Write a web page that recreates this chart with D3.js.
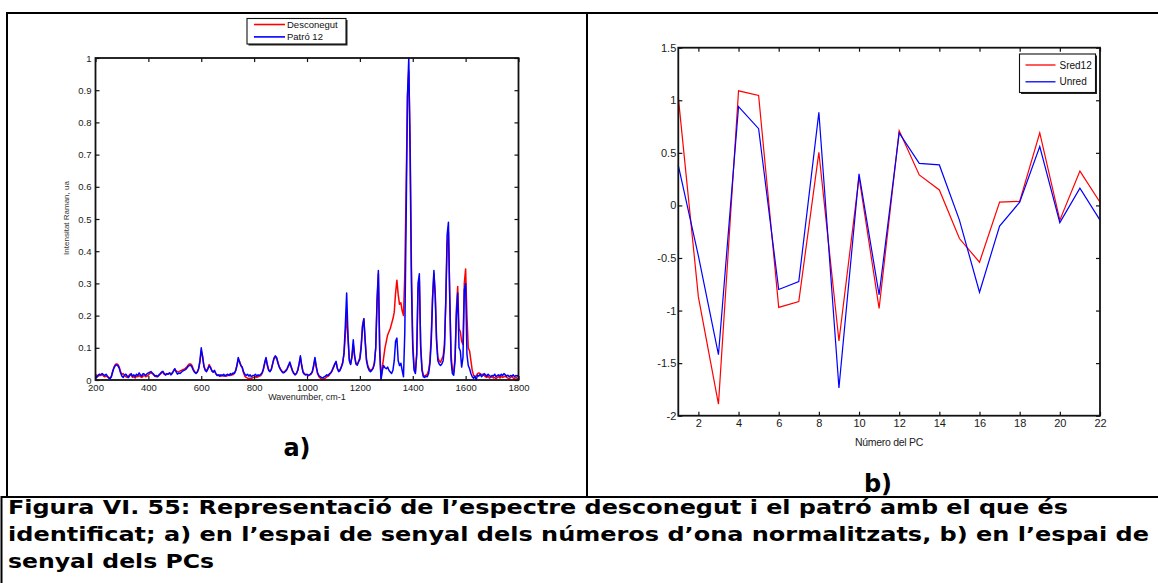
<!DOCTYPE html>
<html>
<head>
<meta charset="utf-8">
<script src="https://cdn.jsdelivr.net/npm/d3@7"></script>
<style>
  body { margin: 0; background: #fff; }
  svg { display: block; }
  .tick text { fill: #1a1a1a; }
</style>
</head>
<body>
<svg id="fig" width="1158" height="583"></svg>
<script>
// ---------- a) Raman spectra, 200–1800 cm-1 sampled every 5 cm-1 ----------
const wavenumbers = d3.range(200, 1801, 5);

const desconegut = [
  // 200–295
  0.018,0.014,0.012,0.015,0.014,0.018,0.012,0.010,0.012,0.010,0.008,0.006,0.012,0.028,0.040,0.048,0.050,0.048,0.040,0.025,
  // 300–395
  0.018,0.020,0.014,0.010,0.008,0.012,0.018,0.015,0.008,0.010,0.006,0.012,0.010,0.014,0.010,0.008,0.012,0.014,0.010,0.012,
  // 400–495
  0.016,0.020,0.022,0.020,0.016,0.012,0.010,0.012,0.014,0.018,0.022,0.024,0.018,0.016,0.018,0.020,0.022,0.020,0.022,0.028,
  // 500–595
  0.034,0.028,0.026,0.025,0.028,0.030,0.032,0.034,0.036,0.040,0.046,0.050,0.050,0.045,0.034,0.026,0.022,0.025,0.035,0.055,
  // 600–695
  0.090,0.075,0.045,0.032,0.030,0.036,0.048,0.040,0.030,0.026,0.028,0.020,0.016,0.014,0.016,0.012,0.014,0.012,0.014,0.012,
  // 700–795
  0.014,0.016,0.014,0.018,0.016,0.022,0.030,0.045,0.065,0.058,0.046,0.038,0.022,0.012,0.008,0.006,0.004,0.006,0.004,0.008,
  // 800–895
  0.008,0.010,0.008,0.010,0.012,0.014,0.020,0.032,0.050,0.066,0.048,0.032,0.028,0.034,0.050,0.065,0.070,0.068,0.056,0.042,
  // 900–995
  0.034,0.028,0.024,0.026,0.030,0.036,0.044,0.050,0.040,0.030,0.022,0.018,0.020,0.030,0.048,0.070,0.045,0.026,0.020,0.016,
  // 1000–1095
  0.016,0.014,0.016,0.018,0.024,0.042,0.065,0.040,0.020,0.010,0.006,0.003,0.002,0.004,0.006,0.010,0.012,0.016,0.022,0.028,
  // 1100–1195
  0.038,0.048,0.055,0.036,0.028,0.032,0.042,0.055,0.080,0.140,0.200,0.130,0.065,0.050,0.070,0.110,0.075,0.052,0.048,0.058,
  // 1200–1295
  0.070,0.110,0.170,0.190,0.125,0.065,0.045,0.035,0.030,0.032,0.038,0.055,0.100,0.240,0.330,0.100,0.005,0.040,0.070,0.100,
  // 1300–1395
  0.120,0.140,0.150,0.160,0.175,0.190,0.210,0.270,0.310,0.265,0.235,0.240,0.215,0.200,0.330,0.600,0.880,0.960,0.750,0.350,
  // 1400–1495
  0.120,0.040,0.025,0.080,0.280,0.310,0.110,0.035,0.015,0.012,0.015,0.018,0.030,0.060,0.140,0.260,0.330,0.270,0.130,0.070,
  // 1500–1595
  0.060,0.055,0.065,0.075,0.110,0.240,0.420,0.460,0.260,0.080,0.030,0.025,0.070,0.220,0.290,0.160,0.150,0.120,0.110,0.300,
  // 1600–1695
  0.345,0.200,0.100,0.090,0.060,0.030,0.015,0.010,0.012,0.020,0.022,0.020,0.016,0.018,0.014,0.010,0.008,0.012,0.006,0.008,
  // 1700–1800
  0.010,0.006,0.008,0.004,0.008,0.010,0.006,0.012,0.008,0.010,0.012,0.008,0.006,0.004,0.008,0.010,0.006,0.004,0.008,0.005,0.003
];

const patro12 = [
  // 200–295
  0.012,0.008,0.015,0.018,0.016,0.020,0.017,0.014,0.018,0.012,0.006,0.004,0.010,0.025,0.038,0.045,0.047,0.044,0.036,0.022,
  // 300–395
  0.012,0.008,0.015,0.018,0.012,0.008,0.014,0.020,0.012,0.016,0.010,0.018,0.014,0.022,0.016,0.012,0.020,0.018,0.014,0.020,
  // 400–495
  0.022,0.024,0.026,0.022,0.018,0.012,0.014,0.010,0.016,0.020,0.025,0.027,0.020,0.016,0.020,0.018,0.022,0.016,0.020,0.028,
  // 500–595
  0.035,0.025,0.018,0.022,0.020,0.024,0.028,0.030,0.032,0.036,0.042,0.045,0.046,0.040,0.030,0.024,0.020,0.024,0.035,0.060,
  // 600–695
  0.100,0.072,0.042,0.030,0.026,0.034,0.044,0.038,0.028,0.024,0.030,0.020,0.014,0.016,0.012,0.016,0.014,0.018,0.012,0.016,
  // 700–795
  0.018,0.014,0.020,0.016,0.022,0.020,0.028,0.045,0.070,0.055,0.044,0.040,0.025,0.018,0.014,0.018,0.012,0.016,0.010,0.014,
  // 800–895
  0.014,0.018,0.012,0.016,0.014,0.018,0.022,0.035,0.055,0.070,0.045,0.030,0.026,0.032,0.050,0.068,0.075,0.070,0.052,0.040,
  // 900–995
  0.032,0.026,0.022,0.024,0.028,0.034,0.046,0.056,0.042,0.028,0.020,0.016,0.020,0.030,0.050,0.075,0.045,0.024,0.018,0.016,
  // 1000–1095
  0.018,0.014,0.016,0.020,0.026,0.045,0.070,0.042,0.022,0.014,0.010,0.008,0.006,0.010,0.012,0.016,0.014,0.020,0.022,0.030,
  // 1100–1195
  0.040,0.050,0.058,0.035,0.026,0.030,0.040,0.052,0.085,0.170,0.270,0.140,0.060,0.048,0.075,0.125,0.075,0.050,0.046,0.056,
  // 1200–1295
  0.065,0.100,0.165,0.190,0.120,0.060,0.040,0.030,0.026,0.030,0.036,0.050,0.100,0.250,0.340,0.090,0.000,0.030,0.045,0.038,
  // 1300–1395
  0.035,0.040,0.030,0.025,0.020,0.030,0.060,0.120,0.130,0.060,0.045,0.052,0.030,0.010,0.150,0.500,0.880,1.000,0.700,0.300,
  // 1400–1495
  0.100,0.030,0.020,0.080,0.300,0.330,0.100,0.030,0.010,0.008,0.012,0.010,0.020,0.050,0.120,0.250,0.340,0.260,0.120,0.060,
  // 1500–1595
  0.050,0.045,0.050,0.060,0.100,0.250,0.450,0.490,0.250,0.060,0.020,0.015,0.060,0.200,0.270,0.100,0.090,0.040,0.070,0.280,
  // 1600–1695
  0.300,0.080,0.045,0.035,0.020,0.010,0.005,0.012,0.000,0.015,0.012,0.018,0.010,0.014,0.020,0.016,0.012,0.018,0.014,0.010,
  // 1700–1800
  0.014,0.012,0.018,0.010,0.014,0.016,0.012,0.018,0.014,0.020,0.016,0.012,0.015,0.010,0.014,0.012,0.016,0.010,0.014,0.012,0.015
];

const spectrumTicksX = [200, 400, 600, 800, 1000, 1200, 1400, 1600, 1800];
const spectrumTicksY = [0, 0.1, 0.2, 0.3, 0.4, 0.5, 0.6, 0.7, 0.8, 0.9, 1];

// ---------- b) scores on the principal components ----------
const pcNumbers = d3.range(1, 23);
const sred12 = [1.03, -0.87, -1.89, 1.09, 1.045, -0.97, -0.915, 0.505, -1.29, 0.27, -0.98,
                0.71, 0.29, 0.147, -0.315, -0.54, 0.032, 0.038, 0.69, -0.14, 0.326, 0.03];
const unred  = [0.38, -0.48, -1.42, 0.94, 0.73, -0.80, -0.725, 0.885, -1.735, 0.30, -0.85,
                0.69, 0.40, 0.385, -0.14, -0.826, -0.196, 0.03, 0.56, -0.164, 0.163, -0.14];
const pcTicksX = [2, 4, 6, 8, 10, 12, 14, 16, 18, 20, 22];
const pcTicksY = [-2, -1.5, -1, -0.5, 0, 0.5, 1, 1.5];

const captionLines = [
  "Figura VI. 55: Representació de l’espectre desconegut i el patró amb el que és",
  "identificat; a) en l’espai de senyal dels números d’ona normalitzats, b) en l’espai de",
  "senyal dels PCs"
];

const RED = "#ff0000", BLUE = "#0000ff";
const svg = d3.select("#fig");
const FONT = "'Liberation Sans', Arial, sans-serif";

// ---------- table frame ----------
const frame = svg.append("g").attr("stroke", "#000").attr("stroke-width", 2).attr("fill", "none");
frame.append("line").attr("x1", 7).attr("x2", 1158).attr("y1", 13).attr("y2", 13);
frame.append("line").attr("x1", 7).attr("x2", 7).attr("y1", 12).attr("y2", 497);
frame.append("line").attr("x1", 587).attr("x2", 587).attr("y1", 12).attr("y2", 497);
frame.append("line").attr("x1", 1).attr("x2", 1158).attr("y1", 497).attr("y2", 497);
frame.append("line").attr("x1", 1.5).attr("x2", 1.5).attr("y1", 496).attr("y2", 583);

// Draws a MATLAB-style boxed axes with inward ticks on all four sides
function boxedAxes(g, x, y, xt, yt, opt) {
  const [x0, x1] = x.range();
  const [yb, yt0] = y.range();
  const fmt = d => String(d);
  g.append("g").attr("transform", `translate(0,${yb})`)
    .call(d3.axisBottom(x).tickValues(xt).tickSize(-opt.tick).tickPadding(opt.xpad).tickFormat(fmt));
  g.append("g").attr("transform", `translate(${x0},0)`)
    .call(d3.axisLeft(y).tickValues(yt).tickSize(-opt.tick).tickPadding(opt.ypad).tickFormat(fmt));
  g.append("g").attr("transform", `translate(0,${yt0})`)
    .call(d3.axisTop(x).tickValues(xt).tickSize(-opt.tick).tickFormat(""));
  g.append("g").attr("transform", `translate(${x1},0)`)
    .call(d3.axisRight(y).tickValues(yt).tickSize(-opt.tick).tickFormat(""));
  g.selectAll(".domain").remove();
  g.selectAll(".tick line").attr("stroke", "#111").attr("stroke-width", 1.2);
  g.selectAll(".tick text").attr("font-family", FONT).attr("font-size", opt.fs);
  g.append("rect").attr("x", x0).attr("y", yt0).attr("width", x1 - x0).attr("height", yb - yt0)
    .attr("fill", "none").attr("stroke", "#111").attr("stroke-width", 1.8);
}

function legendBox(g, x, y, w, h, items, opt) {
  g.append("rect").attr("x", x + 1.5).attr("y", y + 1.5).attr("width", w).attr("height", h)
    .attr("fill", "#222");
  g.append("rect").attr("x", x).attr("y", y).attr("width", w).attr("height", h)
    .attr("fill", "#fff").attr("stroke", "#111").attr("stroke-width", 1.1);
  items.forEach((it, i) => {
    const cy = y + opt.first + i * opt.step;
    g.append("line").attr("x1", x + opt.l0).attr("x2", x + opt.l1).attr("y1", cy).attr("y2", cy)
      .attr("stroke", it.color).attr("stroke-width", opt.lw);
    g.append("text").attr("x", x + opt.tx).attr("y", cy).attr("dy", "0.35em")
      .attr("font-family", FONT).attr("font-size", opt.fs).attr("fill", "#111").text(it.label);
  });
}

// ---------- panel a ----------
{
  const g = svg.append("g");
  const x = d3.scaleLinear().domain([200, 1800]).range([95.5, 518.5]);
  const y = d3.scaleLinear().domain([0, 1]).range([380, 58]);
  const line = d3.line().x((d, i) => x(wavenumbers[i])).y(d => y(d));
  g.append("path").datum(desconegut).attr("d", line)
    .attr("fill", "none").attr("stroke", RED).attr("stroke-width", 1.5).attr("stroke-linejoin", "round");
  g.append("path").datum(patro12).attr("d", line)
    .attr("fill", "none").attr("stroke", BLUE).attr("stroke-width", 1.5).attr("stroke-linejoin", "round");
  boxedAxes(g, x, y, spectrumTicksX, spectrumTicksY, { tick: 4, xpad: 4.5, ypad: 4, fs: 9.5 });

  g.append("text").attr("x", 307).attr("y", 397).attr("dy", "0.35em").attr("text-anchor", "middle")
    .attr("font-family", FONT).attr("font-size", 9).attr("fill", "#222").text("Wavenumber, cm-1");
  g.append("text").attr("transform", "translate(66,218) rotate(-90)").attr("dy", "0.35em")
    .attr("text-anchor", "middle").attr("font-family", FONT).attr("font-size", 8).attr("fill", "#333")
    .text("Intensitat Raman, ua");

  legendBox(g, 247, 18.5, 99, 25.5,
    [{ label: "Desconegut", color: RED }, { label: "Patró 12", color: BLUE }],
    { first: 6, step: 12.4, l0: 7, l1: 38, tx: 40, fs: 9.5, lw: 1.6 });

  g.append("text").attr("x", 297).attr("y", 448).attr("dy", "0.35em").attr("text-anchor", "middle")
    .attr("font-family", "'DejaVu Sans', Verdana, sans-serif").attr("font-weight", "bold")
    .attr("font-size", 24).attr("fill", "#000").text("a)");
}

// ---------- panel b ----------
{
  const g = svg.append("g");
  const x = d3.scaleLinear().domain([1, 22]).range([678.3, 1100]);
  const y = d3.scaleLinear().domain([-2, 1.5]).range([415.7, 47.7]);
  const line = d3.line().x((d, i) => x(pcNumbers[i])).y(d => y(d));
  g.append("path").datum(sred12).attr("d", line)
    .attr("fill", "none").attr("stroke", RED).attr("stroke-width", 1.2);
  g.append("path").datum(unred).attr("d", line)
    .attr("fill", "none").attr("stroke", BLUE).attr("stroke-width", 1.2);
  boxedAxes(g, x, y, pcTicksX, pcTicksY, { tick: 4, xpad: 4, ypad: 2, fs: 11 });

  g.append("text").attr("x", 889).attr("y", 442).attr("dy", "0.35em").attr("text-anchor", "middle")
    .attr("font-family", FONT).attr("font-size", 10.5).attr("letter-spacing", -0.3).attr("fill", "#222")
    .text("Número del PC");

  legendBox(g, 1019.5, 54, 76, 38.5,
    [{ label: "Sred12", color: RED }, { label: "Unred", color: BLUE }],
    { first: 11, step: 16.8, l0: 6, l1: 36, tx: 40, fs: 10, lw: 1.3 });

  g.append("text").attr("x", 878).attr("y", 484).attr("dy", "0.35em").attr("text-anchor", "middle")
    .attr("font-family", "'DejaVu Sans', Verdana, sans-serif").attr("font-weight", "bold")
    .attr("font-size", 24).attr("fill", "#000").text("b)");
}

// ---------- caption ----------
{
  const widths = [1060, 1141, 206];
  const g = svg.append("g");
  captionLines.forEach((t, i) => {
    g.append("text").attr("x", 8).attr("y", 514 + i * 27)
      .attr("font-family", "'DejaVu Sans', Verdana, sans-serif").attr("font-weight", "bold")
      .attr("font-size", 19).attr("fill", "#000")
      .attr("textLength", widths[i]).attr("lengthAdjust", "spacingAndGlyphs")
      .text(t);
  });
}
</script>
</body>
</html>
